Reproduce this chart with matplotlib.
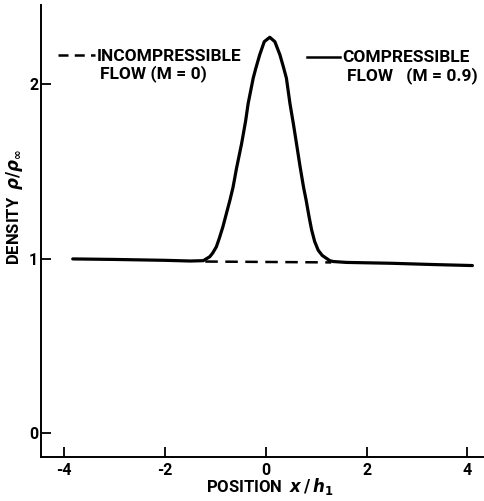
import matplotlib
matplotlib.use("Agg")
import matplotlib.pyplot as plt

# compressible flow (M = 0.9)
x_comp = [-3.83, -3.0, -2.0, -1.5, -1.24, -1.11, -1.05, -0.98, -0.92, -0.85,
          -0.71, -0.65, -0.58, -0.48, -0.40, -0.35, -0.25, -0.2, -0.12, -0.03,
          0.08, 0.18, 0.28, 0.35, 0.41, 0.48, 0.55, 0.61, 0.68, 0.75, 0.80,
          0.86, 0.91, 0.97, 1.04, 1.12, 1.2, 1.27, 1.34, 1.6, 2.5, 3.3, 4.1]
y_comp = [1.0, 0.997, 0.992, 0.988, 0.99, 1.013, 1.035, 1.07, 1.12, 1.185,
          1.338, 1.41, 1.52, 1.66, 1.79, 1.89, 2.035, 2.09, 2.17, 2.245,
          2.27, 2.245, 2.17, 2.10, 2.035, 1.89, 1.77, 1.66, 1.53, 1.41, 1.338,
          1.24, 1.166, 1.10, 1.05, 1.02, 1.004, 0.99, 0.985, 0.98, 0.975, 0.968, 0.962]

# incompressible flow (M = 0)
x_inc = [-1.2, 1.3]
y_inc = [0.985, 0.98]

xticks = [-4, -2, 0, 2, 4]
yticks = [0, 1, 2]

plt.rcParams['font.family'] = ['Roboto', 'DejaVu Sans']
plt.rcParams['font.weight'] = 'bold'
plt.rcParams['mathtext.fontset'] = 'dejavusans'

fig = plt.figure(figsize=(4.85, 5.01), dpi=100)
ax = fig.add_axes([41 / 485, 1 - 457 / 501, 444 / 485, 452 / 501])

ax.plot(x_inc, y_inc, color='black', lw=1.8, dashes=(5, 3))
ax.plot(x_comp, y_comp, color='black', lw=2.3, solid_joinstyle='round',
        solid_capstyle='round')

ax.set_xlim(-4.46, 4.35)
ax.set_ylim(-0.135, 2.455)
ax.set_xticks(xticks)
ax.set_yticks(yticks)
ax.set_xticklabels([f"{t:d}" for t in xticks])
ax.set_yticklabels([f"{t:d}" for t in yticks])

for side in ['top', 'right']:
    ax.spines[side].set_visible(False)
for side in ['left', 'bottom']:
    ax.spines[side].set_linewidth(1.4)

ax.tick_params(direction='in', length=7, width=1.3, labelsize=11.5)
ax.tick_params(axis='x', pad=4)
ax.tick_params(axis='y', pad=2)

ax.set_xlabel(r"POSITION  $x\,/\,h_1$", fontsize=12, fontweight='bold', va='center')
ax.xaxis.set_label_coords(0.516, -0.066)
ax.set_ylabel(r"DENSITY  $\rho/\rho_\infty$", fontsize=12, fontweight='bold', va='center')
ax.yaxis.set_label_coords(-0.059, 0.553)

# legend keys and labels
ax.plot([0.038, 0.122], [0.889, 0.889], transform=ax.transAxes,
        color='black', lw=1.8, dashes=(4, 2.5))
ax.text(0.126, 0.887, "INCOMPRESSIBLE", transform=ax.transAxes,
        fontsize=12.5, va='center', ha='left')
ax.text(0.133, 0.848, "FLOW (M = 0)", transform=ax.transAxes,
        fontsize=12.5, va='center', ha='left')

ax.plot([0.599, 0.673], [0.885, 0.885], transform=ax.transAxes,
        color='black', lw=1.8)
ax.text(0.678, 0.883, "COMPRESSIBLE", transform=ax.transAxes,
        fontsize=12.5, va='center', ha='left')
ax.text(0.689, 0.843, "FLOW   (M = 0.9)", transform=ax.transAxes,
        fontsize=12.5, va='center', ha='left')

fig.savefig('out.png', dpi=100)
